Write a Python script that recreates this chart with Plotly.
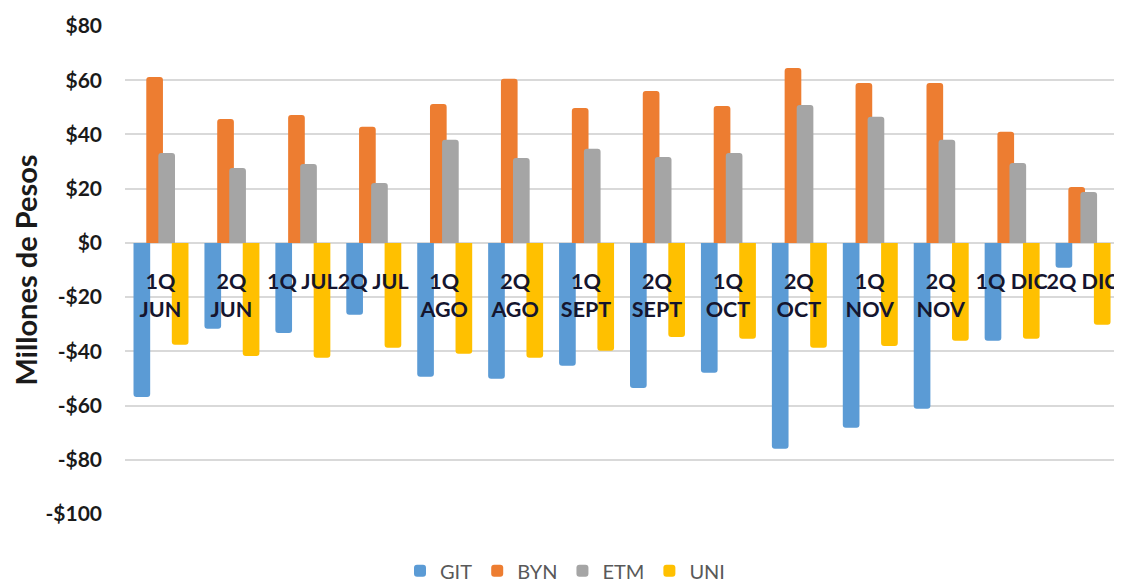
import plotly.graph_objects as go

categories = ["1Q<br>JUN", "2Q<br>JUN", "1Q JUL", "2Q JUL", "1Q<br>AGO", "2Q<br>AGO",
              "1Q<br>SEPT", "2Q<br>SEPT", "1Q<br>OCT", "2Q<br>OCT", "1Q<br>NOV", "2Q<br>NOV",
              "1Q DIC", "2Q DIC"]

git = [-56.8, -31.7, -33.2, -26.5, -49.4, -50.1, -45.3, -53.5, -47.9, -75.9, -68.2, -61.2, -36.1, -9.2]
byn = [61.2, 45.7, 47.2, 42.8, 51.2, 60.5, 49.8, 56.0, 50.5, 64.5, 59.0, 59.0, 41.0, 20.6]
etm = [33.2, 27.6, 29.1, 22.1, 38.0, 31.3, 34.7, 31.7, 33.2, 50.9, 46.5, 38.0, 29.5, 18.8]
uni = [-37.6, -41.7, -42.4, -38.7, -40.9, -42.4, -39.8, -34.7, -35.4, -38.7, -38.0, -36.1, -35.4, -30.2]

y_ticks = [80, 60, 40, 20, 0, -20, -40, -60, -80, -100]
y_ticktext = ["$80", "$60", "$40", "$20", "$0", "-$20", "-$40", "-$60", "-$80", "-$100"]

series = [
    ("GIT", git, "#5B9BD5", -0.38),
    ("BYN", byn, "#ED7D31", -0.20),
    ("ETM", etm, "#A5A5A5", -0.03),
    ("UNI", uni, "#FFC000", 0.16),
]

fig = go.Figure()
for name, vals, color, off in series:
    fig.add_trace(go.Bar(
        name=name, x=categories, y=vals,
        marker=dict(color=color, line=dict(width=0), cornerradius=3),
        width=0.235, offset=off,
    ))

grid = "#D9D9D9"
fig.update_layout(
    width=1114, height=579,
    barmode="overlay",
    plot_bgcolor="white", paper_bgcolor="white",
    margin=dict(l=117, r=4, t=18, b=73),
    font=dict(family="Lato", color="#1a1a1a"),
    showlegend=True,
    legend=dict(
        orientation="h", xref="container", yref="container",
        x=0.5, xanchor="center", y=0.028, yanchor="middle",
        font=dict(size=20, color="#595959", family="Lato"),
        itemwidth=30, traceorder="normal",
    ),
    xaxis=dict(
        type="category", range=[-0.5, 13.5],
        anchor="free", position=100 / 180,
        showgrid=False, showline=False, ticks="",
        tickangle=0, automargin=False,
        tickfont=dict(size=21.5, family="Lato", color="#15152e", weight="bold"),
        ticklabelstandoff=24,
        fixedrange=True,
    ),
    yaxis=dict(
        range=[-100, 80], tickvals=y_ticks, ticktext=y_ticktext,
        showgrid=True, gridcolor=grid, gridwidth=1.5,
        zeroline=True, zerolinecolor=grid, zerolinewidth=1.5,
        showline=False, ticks="", automargin=False,
        tickfont=dict(size=21, family="Lato", color="#1a1a1a", weight="bold"),
        ticklabelstandoff=22,
        title=dict(text="Millones de Pesos", standoff=12,
                   font=dict(size=29, family="Lato", color="#1a1a1a", weight="bold")),
    ),
)

fig.write_html("out.html")
